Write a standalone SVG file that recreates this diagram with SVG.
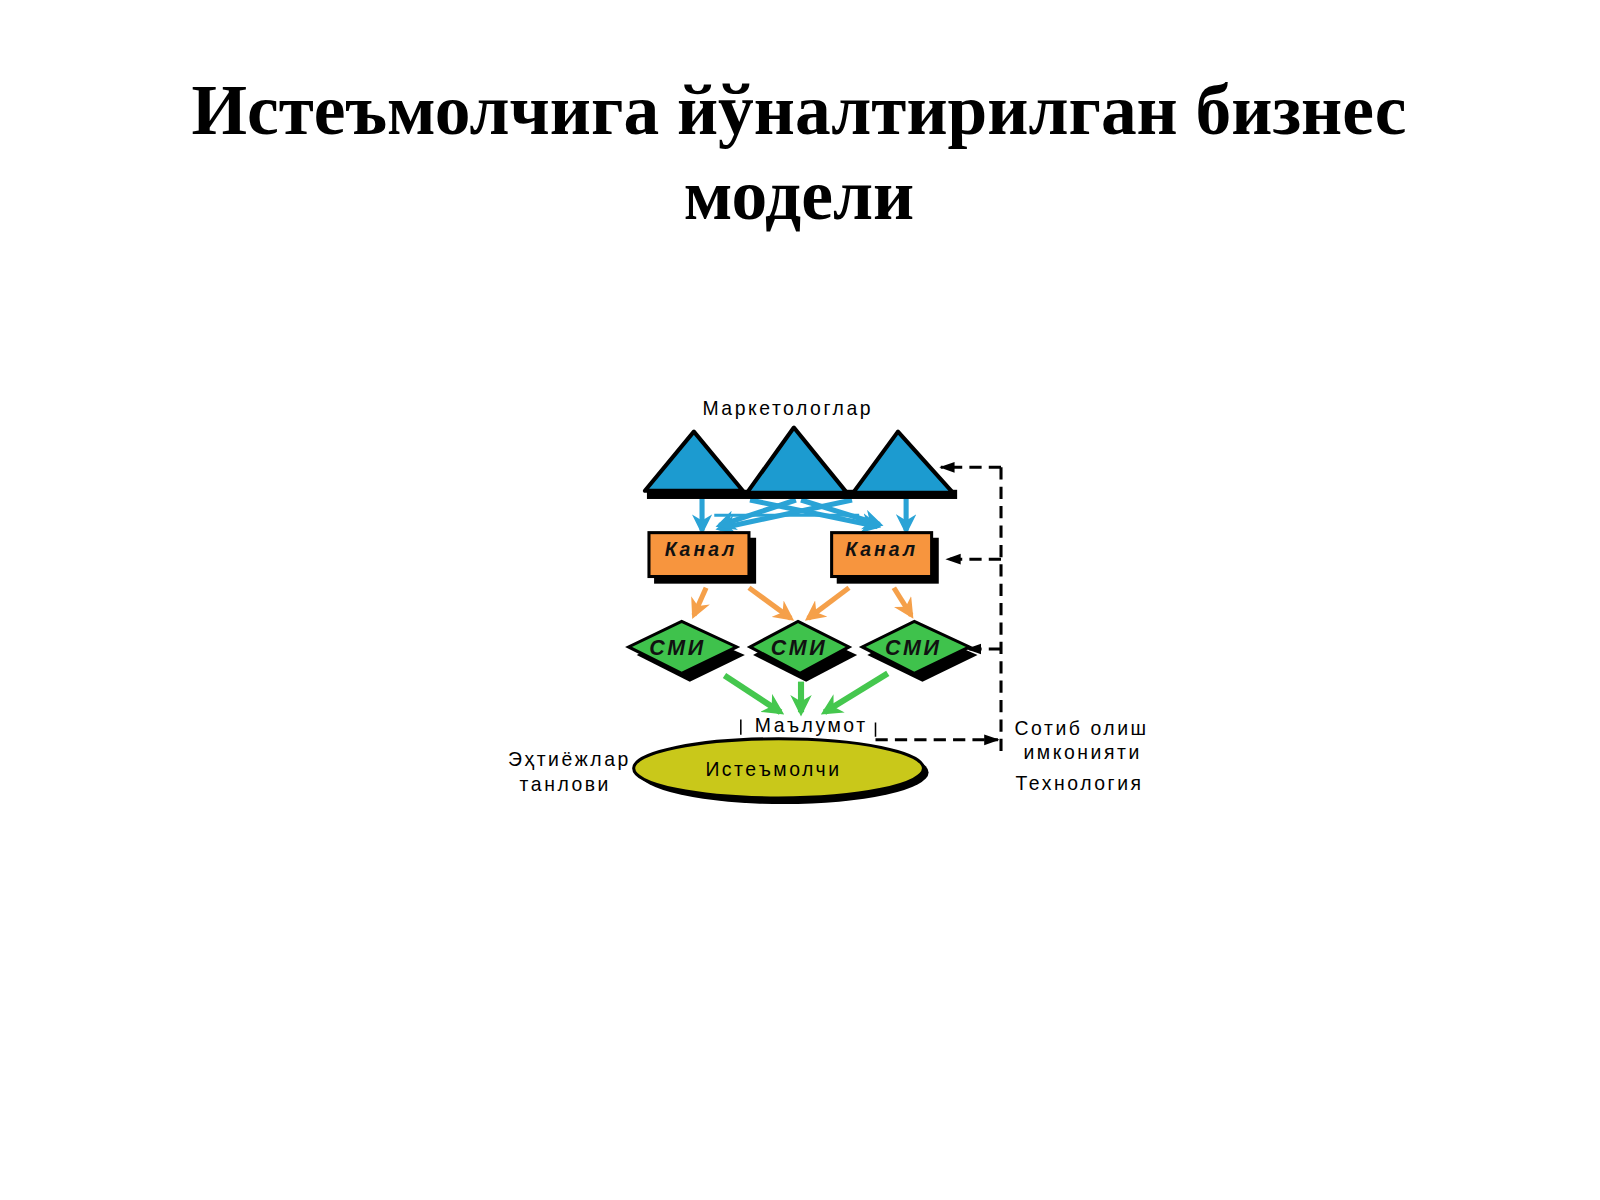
<svg xmlns="http://www.w3.org/2000/svg" width="1600" height="1200" viewBox="0 0 1600 1200">
<defs>
<style>
.title{font-family:"Liberation Serif",serif;font-weight:bold;font-size:70px;fill:#000;text-anchor:middle}
.lbl{font-family:"Liberation Sans",Arial,sans-serif;font-size:19px;letter-spacing:2.5px;fill:#000;text-anchor:middle}
.node{font-family:"Liberation Sans",Arial,sans-serif;font-weight:bold;font-style:italic;fill:#111;text-anchor:middle}
.tri{fill:#1c9bd0;stroke:#000;stroke-width:4;stroke-linejoin:round}
.box{fill:#f7953e;stroke:#000;stroke-width:3}
.dia{fill:#3fc24c;stroke:#000;stroke-width:3}
.sh{fill:#000}
.ba{stroke:#2aa3d6;stroke-width:5;fill:none;marker-end:url(#mb)}
.oa{stroke:#f5a04a;stroke-width:5;fill:none;marker-end:url(#mo)}
.ga{stroke:#45c74e;stroke-width:6;fill:none;marker-end:url(#mg)}
.dash{stroke:#000;stroke-width:3;stroke-dasharray:12 7;fill:none}
.dashA{stroke:#000;stroke-width:3;stroke-dasharray:12 7;fill:none;marker-end:url(#mk)}
</style>
<marker id="mb" viewBox="0 0 10 10" refX="8" refY="5" markerWidth="4" markerHeight="4" orient="auto"><path d="M0,0L10,5L0,10L3,5z" fill="#2aa3d6"/></marker>
<marker id="mo" viewBox="0 0 10 10" refX="8" refY="5" markerWidth="4" markerHeight="4" orient="auto"><path d="M0,0L10,5L0,10L3,5z" fill="#f5a04a"/></marker>
<marker id="mg" viewBox="0 0 10 10" refX="8" refY="5" markerWidth="3.5" markerHeight="3.5" orient="auto"><path d="M0,0L10,5L0,10L3,5z" fill="#45c74e"/></marker>
<marker id="mk" viewBox="0 0 10 10" refX="9" refY="5" markerWidth="5" markerHeight="5" orient="auto"><path d="M0,1.5L10,5L0,8.5z" fill="#000"/></marker>
</defs>
<rect width="1600" height="1200" fill="#fff"/>
<g transform="scale(1.0204)">
<text class="title" x="783" y="131">Истеъмолчига йўналтирилган бизнес</text>
<text class="title" x="783" y="215">модели</text>

<g id="connectors">
<path class="ba" d="M688,488 L688,520"/>
<path class="ba" d="M888,488 L888,520"/>
<path class="ba" d="M735,490 L860,516"/>
<path class="ba" d="M835,490 L705,518"/>
<path class="ba" d="M780,490 L705,515"/>
<path class="ba" d="M785,490 L862,514"/>
<path class="ba" d="M700,505 L842,505" style="stroke-width:3;marker-end:none"/>
<path class="oa" d="M692,576 L680,603"/>
<path class="oa" d="M734,576 L775,606"/>
<path class="oa" d="M832,576 L792,606"/>
<path class="oa" d="M876,576 L893,603"/>
<path class="ga" d="M710,662 L765,698"/>
<path class="ga" d="M785,668 L785,698"/>
<path class="ga" d="M870,660 L808,698"/>
<path class="dash" d="M981,458 L981,738"/>
<path class="dashA" d="M981,458 L922,458"/>
<path class="dashA" d="M981,548 L928,548"/>
<path class="dashA" d="M981,636 L948,636"/>
<path class="dashA" d="M858,725 L978,725"/>
<path d="M726,705 L726,720 M858,708 L858,722" stroke="#000" stroke-width="1.5"/>
</g>

<g id="marketologlar">
<text class="lbl" x="772" y="407">Маркетологлар</text>
<rect class="sh" x="634" y="480" width="304" height="9"/>
<polygon class="tri" points="680,423 632,481 728,481"/>
<polygon class="tri" points="778,419 732,483 830,483"/>
<polygon class="tri" points="880,423 836,483 934,483"/>
</g>

<g id="kanal1">
<rect class="sh" x="641" y="527" width="100" height="45"/>
<rect class="box" x="636" y="522" width="98" height="43"/>
<text class="node" x="687" y="545" font-size="19" letter-spacing="3">Канал</text>
</g>
<g id="kanal2">
<rect class="sh" x="820" y="527" width="100" height="45"/>
<rect class="box" x="815" y="522" width="98" height="43"/>
<text class="node" x="864" y="545" font-size="19" letter-spacing="3">Канал</text>
</g>

<g id="smi1">
<polygon class="sh" points="670,616 730,642 676,668 624,642"/>
<polygon class="dia" points="668,609 722,634 668,660 616,634"/>
<text class="node" x="664" y="642" font-size="21" letter-spacing="2.5">СМИ</text>
</g>
<g id="smi2">
<polygon class="sh" points="784,616 840,642 790,668 738,642"/>
<polygon class="dia" points="782,609 832,634 784,660 735,634"/>
<text class="node" x="783" y="642" font-size="21" letter-spacing="2.5">СМИ</text>
</g>
<g id="smi3">
<polygon class="sh" points="898,616 958,642 904,668 850,642"/>
<polygon class="dia" points="896,609 950,634 896,660 845,634"/>
<text class="node" x="895" y="642" font-size="21" letter-spacing="2.5">СМИ</text>
</g>

<g id="malumot">
<text class="lbl" x="795" y="717">Маълумот</text>
</g>

<g id="istemolchi">
<ellipse class="sh" cx="768" cy="757" rx="142" ry="31"/>
<ellipse cx="763" cy="753" rx="142" ry="29" fill="#c9c81a" stroke="#000" stroke-width="3"/>
<text class="lbl" x="758" y="760">Истеъмолчи</text>
</g>

<g id="labels">
<text class="lbl" x="558" y="751">Эҳтиёжлар</text>
<text class="lbl" x="554" y="775">танлови</text>
<text class="lbl" x="1060" y="720">Сотиб олиш</text>
<text class="lbl" x="1061" y="744">имконияти</text>
<text class="lbl" x="1058" y="774">Технология</text>
</g>
</g>
</svg>
